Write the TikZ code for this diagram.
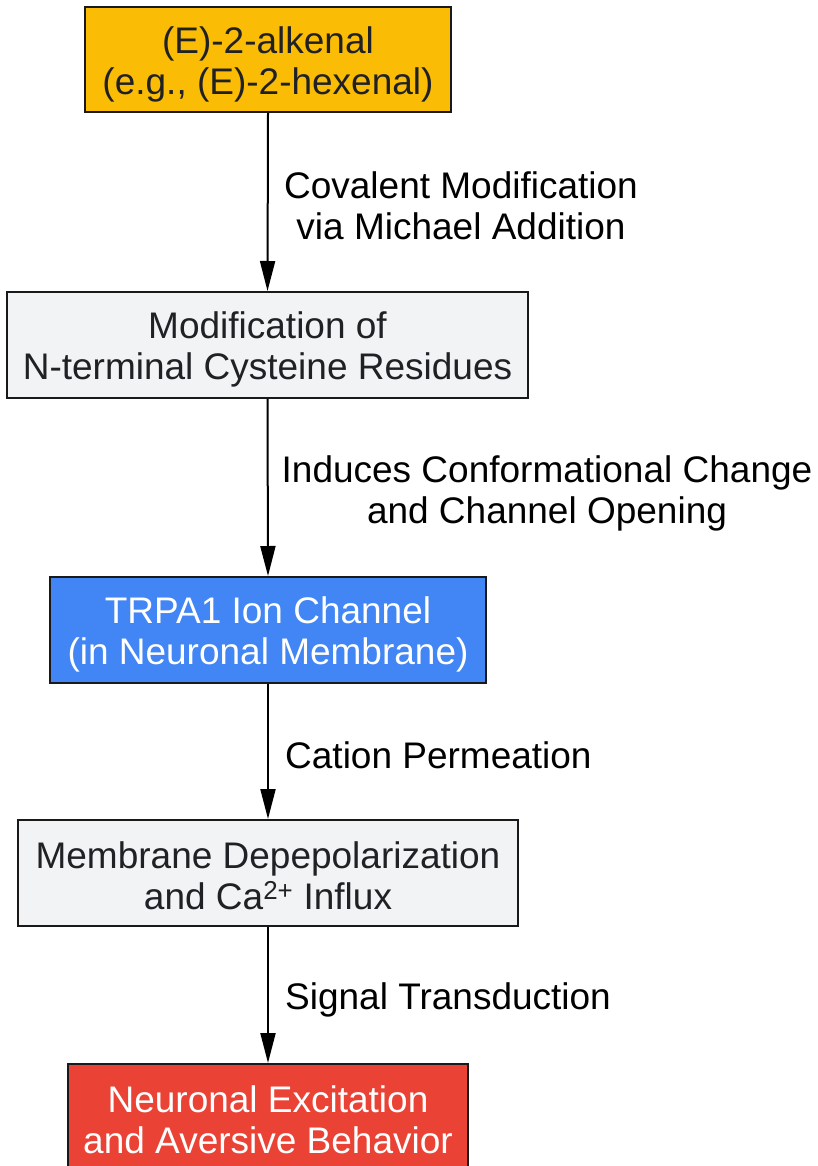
\documentclass[tikz,border=0pt]{standalone}
\usepackage{fontspec}
\setmainfont{Liberation Sans}
\usetikzlibrary{arrows.meta}
\definecolor{txtdark}{HTML}{202124}
\definecolor{cyellow}{HTML}{FBBC05}
\definecolor{cgray}{HTML}{F1F3F4}
\definecolor{cblue}{HTML}{4285F4}
\definecolor{cred}{HTML}{EA4335}
\newcommand\toprl{\rule{0pt}{36pt}}
\newcommand\botrl{\rule[-5pt]{0pt}{5pt}}
\tikzset{
  box/.style={draw=black!90, line width=2pt, align=center, inner sep=0pt,
    font=\fontsize{37}{41}\selectfont, text=txtdark},
  lbl/.style={align=center, inner sep=0pt, font=\fontsize{37}{41}\selectfont, text=black},
  conn/.style={line width=2pt, -{Triangle[length=30pt,width=15pt]}}
}
\begin{document}
\begin{tikzpicture}[x=1pt,y=-1pt]
\useasboundingbox (0,0) rectangle (818,1166);
\node[box, fill=cyellow, minimum width=366pt, minimum height=105pt] (b1) at (268,59.5) {\toprl(E)-2-alkenal\\(e.g., (E)-2-hexenal)\botrl};
\node[box, fill=cgray, minimum width=521pt, minimum height=106pt] (b2) at (267.5,345) {\toprl Modification of\\N-terminal Cysteine Residues\botrl};
\node[box, fill=cblue, text=white, minimum width=436pt, minimum height=106pt] (b3) at (268,630) {\toprl TRPA1 Ion Channel\\(in Neuronal Membrane)\botrl};
\node[box, fill=cgray, minimum width=500pt, minimum height=106pt] (b4) at (268,873) {\toprl Membrane Depepolarization\\and Ca\textsuperscript{2+} Influx\botrl};
\node[box, fill=cred, text=white, minimum width=400pt, minimum height=106pt] (b5) at (268,1117) {\toprl Neuronal Excitation\\and Aversive Behavior\botrl};
\draw[conn] (b1.south) -- (b2.north);
\draw[conn] (b2.south) -- (b3.north);
\draw[conn] (b3.south) -- (b4.north);
\draw[conn] (b4.south) -- (b5.north);
\node[lbl] (l1) at (461,206) {Covalent Modification\\via Michael Addition};
\node[lbl] (l2) at (547,493) {Induces Conformational Change\\and Channel Opening};
\node[lbl, anchor=west] (l3) at (285,755) {Cation Permeation};
\node[lbl, anchor=west] (l4) at (285,1000) {Signal Transduction};
\end{tikzpicture}
\end{document}
